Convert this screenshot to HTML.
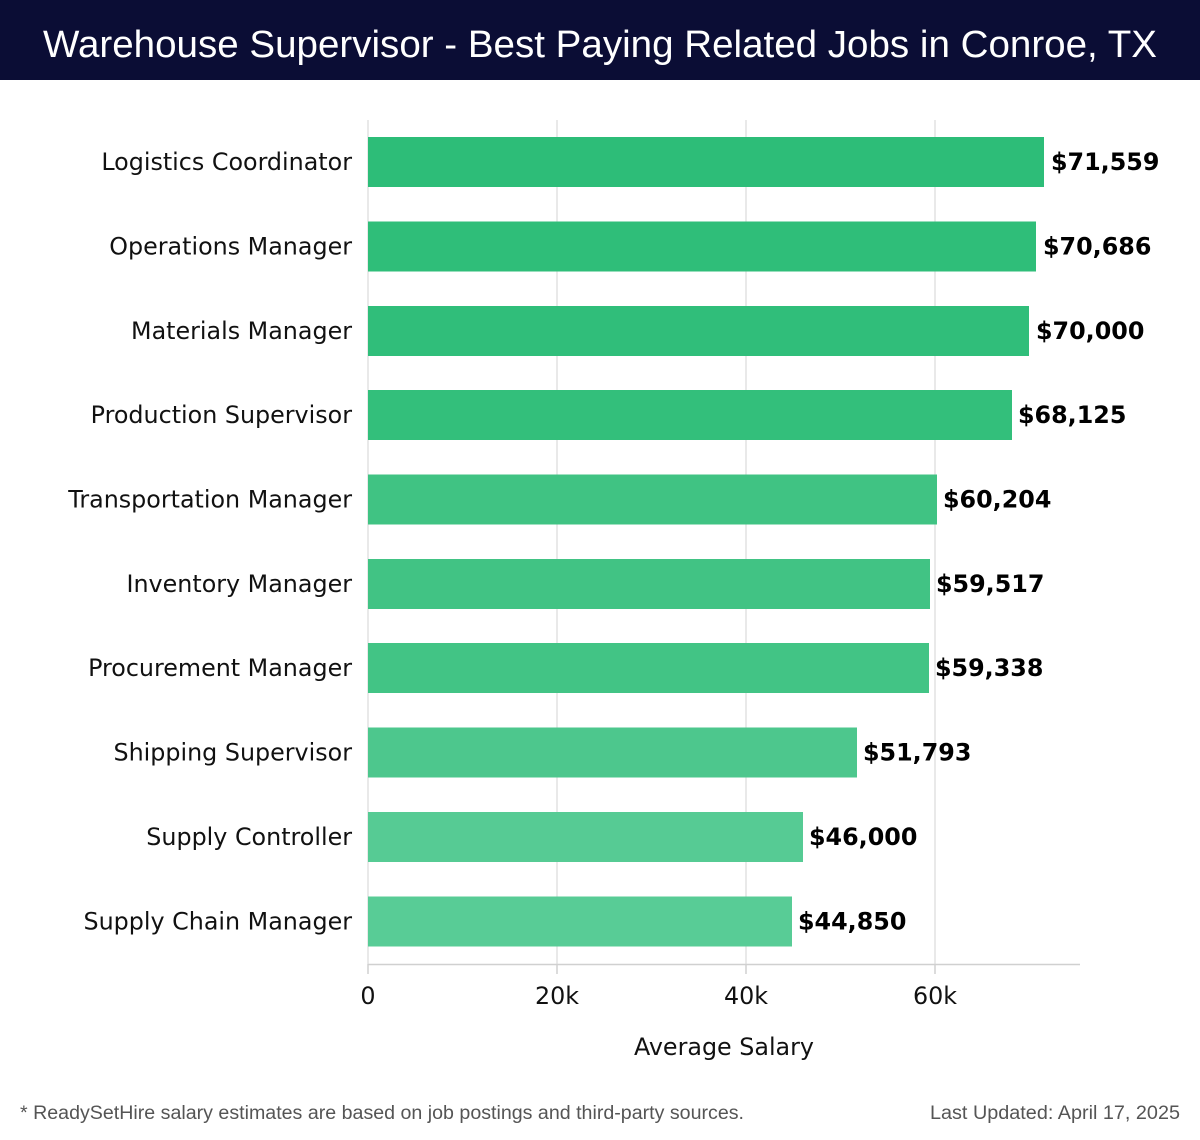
<!DOCTYPE html>
<html><head><meta charset="utf-8"><style>
body{margin:0;background:#fff}
svg{display:block}
.l{font-family:"DejaVu Sans","Liberation Sans",sans-serif;font-size:23.8px;fill:#111}
.v{font-family:"DejaVu Sans","Liberation Sans",sans-serif;font-size:23.8px;font-weight:bold;fill:#000}
</style></head><body>
<svg width="1200" height="1140" xmlns="http://www.w3.org/2000/svg">
<rect x="0" y="0" width="1200" height="80" fill="#0b0d35"/>
<text x="600" y="57" text-anchor="middle" font-family="Liberation Sans,sans-serif" font-size="38" fill="#fff" textLength="1114" lengthAdjust="spacingAndGlyphs">Warehouse Supervisor - Best Paying Related Jobs in Conroe, TX</text>
<g stroke="#e2e2e2" stroke-width="1.5">
<line x1="368" y1="120" x2="368" y2="964"/>
<line x1="557" y1="120" x2="557" y2="964"/>
<line x1="746" y1="120" x2="746" y2="964"/>
<line x1="935" y1="120" x2="935" y2="964"/>
</g>
<line x1="368" y1="964.5" x2="1080" y2="964.5" stroke="#d0d0d0" stroke-width="1.5"/>
<g stroke="#d0d0d0" stroke-width="1.5">
<line x1="368" y1="964" x2="368" y2="974"/><line x1="557" y1="964" x2="557" y2="974"/><line x1="746" y1="964" x2="746" y2="974"/><line x1="935" y1="964" x2="935" y2="974"/>
</g>
<g>
<rect x="368" y="137" width="676" height="50" fill="#2dbd78"/>
<rect x="368" y="221.5" width="668" height="50" fill="#2fbe79"/>
<rect x="368" y="306" width="661" height="50" fill="#30be7a"/>
<rect x="368" y="390" width="644" height="50" fill="#33bf7b"/>
<rect x="368" y="474.5" width="569" height="50" fill="#40c383"/>
<rect x="368" y="559" width="562" height="50" fill="#41c384"/>
<rect x="368" y="643" width="561" height="50" fill="#42c485"/>
<rect x="368" y="727.5" width="489" height="50" fill="#4dc78d"/>
<rect x="368" y="812" width="435" height="50" fill="#56cb94"/>
<rect x="368" y="896.5" width="424" height="50" fill="#58cc96"/>
</g>
<g class="l" text-anchor="end">
<text x="352" y="170">Logistics Coordinator</text>
<text x="352" y="254.5">Operations Manager</text>
<text x="352" y="339">Materials Manager</text>
<text x="352" y="423">Production Supervisor</text>
<text x="352" y="507.5">Transportation Manager</text>
<text x="352" y="592">Inventory Manager</text>
<text x="352" y="676">Procurement Manager</text>
<text x="352" y="760.5">Shipping Supervisor</text>
<text x="352" y="845">Supply Controller</text>
<text x="352" y="929.5">Supply Chain Manager</text>
</g>
<g class="v">
<text x="1051" y="170">$71,559</text>
<text x="1043" y="254.5">$70,686</text>
<text x="1036" y="339">$70,000</text>
<text x="1018" y="423">$68,125</text>
<text x="943" y="507.5">$60,204</text>
<text x="936" y="592">$59,517</text>
<text x="935" y="676">$59,338</text>
<text x="863" y="760.5">$51,793</text>
<text x="809" y="845">$46,000</text>
<text x="798" y="929.5">$44,850</text>
</g>
<g class="l" text-anchor="middle">
<text x="368" y="1004">0</text>
<text x="557" y="1004">20k</text>
<text x="746" y="1004">40k</text>
<text x="935" y="1004">60k</text>
<text x="724" y="1055">Average Salary</text>
</g>
<text x="20" y="1119" font-family="Liberation Sans,sans-serif" font-size="19" fill="#555" textLength="724" lengthAdjust="spacingAndGlyphs">* ReadySetHire salary estimates are based on job postings and third-party sources.</text>
<text x="1180" y="1119" text-anchor="end" font-family="Liberation Sans,sans-serif" font-size="19" fill="#555" textLength="250" lengthAdjust="spacingAndGlyphs">Last Updated: April 17, 2025</text>
</svg>
</body></html>
